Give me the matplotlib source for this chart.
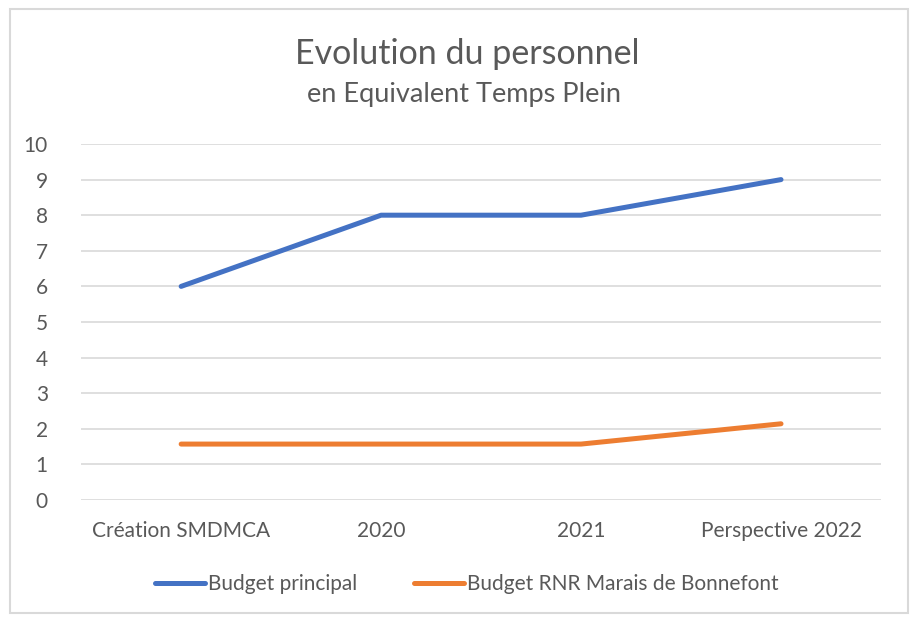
import matplotlib.pyplot as plt
from matplotlib.patches import Rectangle

categories = ['Création SMDMCA', '2020', '2021', 'Perspective 2022']
budget_principal = [6, 8, 8, 9]
budget_rnr = [1.57, 1.57, 1.57, 2.14]
series_names = ['Budget principal', 'Budget RNR Marais de Bonnefont']

plt.rcParams['font.family'] = ['Lato', 'DejaVu Sans']
textColor = '#595959'

fig = plt.figure(figsize=(9.12, 6.18), dpi=100)
fig.patches.append(Rectangle((0.011, 0.008), 0.985, 0.978, transform=fig.transFigure,
                             fill=False, edgecolor='#d9d9d9', linewidth=1.5))

ax = fig.add_axes([0.089, 0.191, 0.877, 0.576])
xs = range(len(categories))
ax.plot(xs, budget_principal, color='#4472C4', linewidth=3.6, solid_capstyle='round',
        label=series_names[0])
ax.plot(xs, budget_rnr, color='#ED7D31', linewidth=3.6, solid_capstyle='round',
        label=series_names[1])

ax.set_xlim(-0.5, len(categories) - 0.5)
ax.set_ylim(0, 10)
ax.set_yticks(range(0, 11))
ax.set_xticks(list(xs))
ax.set_xticklabels(categories)
ax.tick_params(colors=textColor, labelsize=15, length=0)
ax.tick_params(axis='x', pad=15)
ax.tick_params(axis='y', pad=24)
ax.grid(axis='y', color='#d9d9d9', linewidth=1.2)
ax.set_axisbelow(True)
for s in ax.spines.values():
    s.set_visible(False)

fig.text(0.512, 0.913, 'Evolution du personnel', ha='center', va='center',
         fontsize=24.5, color=textColor)
fig.text(0.509, 0.847, 'en Equivalent Temps Plein', ha='center', va='center',
         fontsize=19.5, color=textColor)

leg = fig.legend(loc='center', bbox_to_anchor=(0.512, 0.055), ncol=2, frameon=False,
                 fontsize=15, handlelength=2.4, handletextpad=0.15, columnspacing=2.7)
for t in leg.get_texts():
    t.set_color(textColor)

fig.savefig('out.png', dpi=100)
